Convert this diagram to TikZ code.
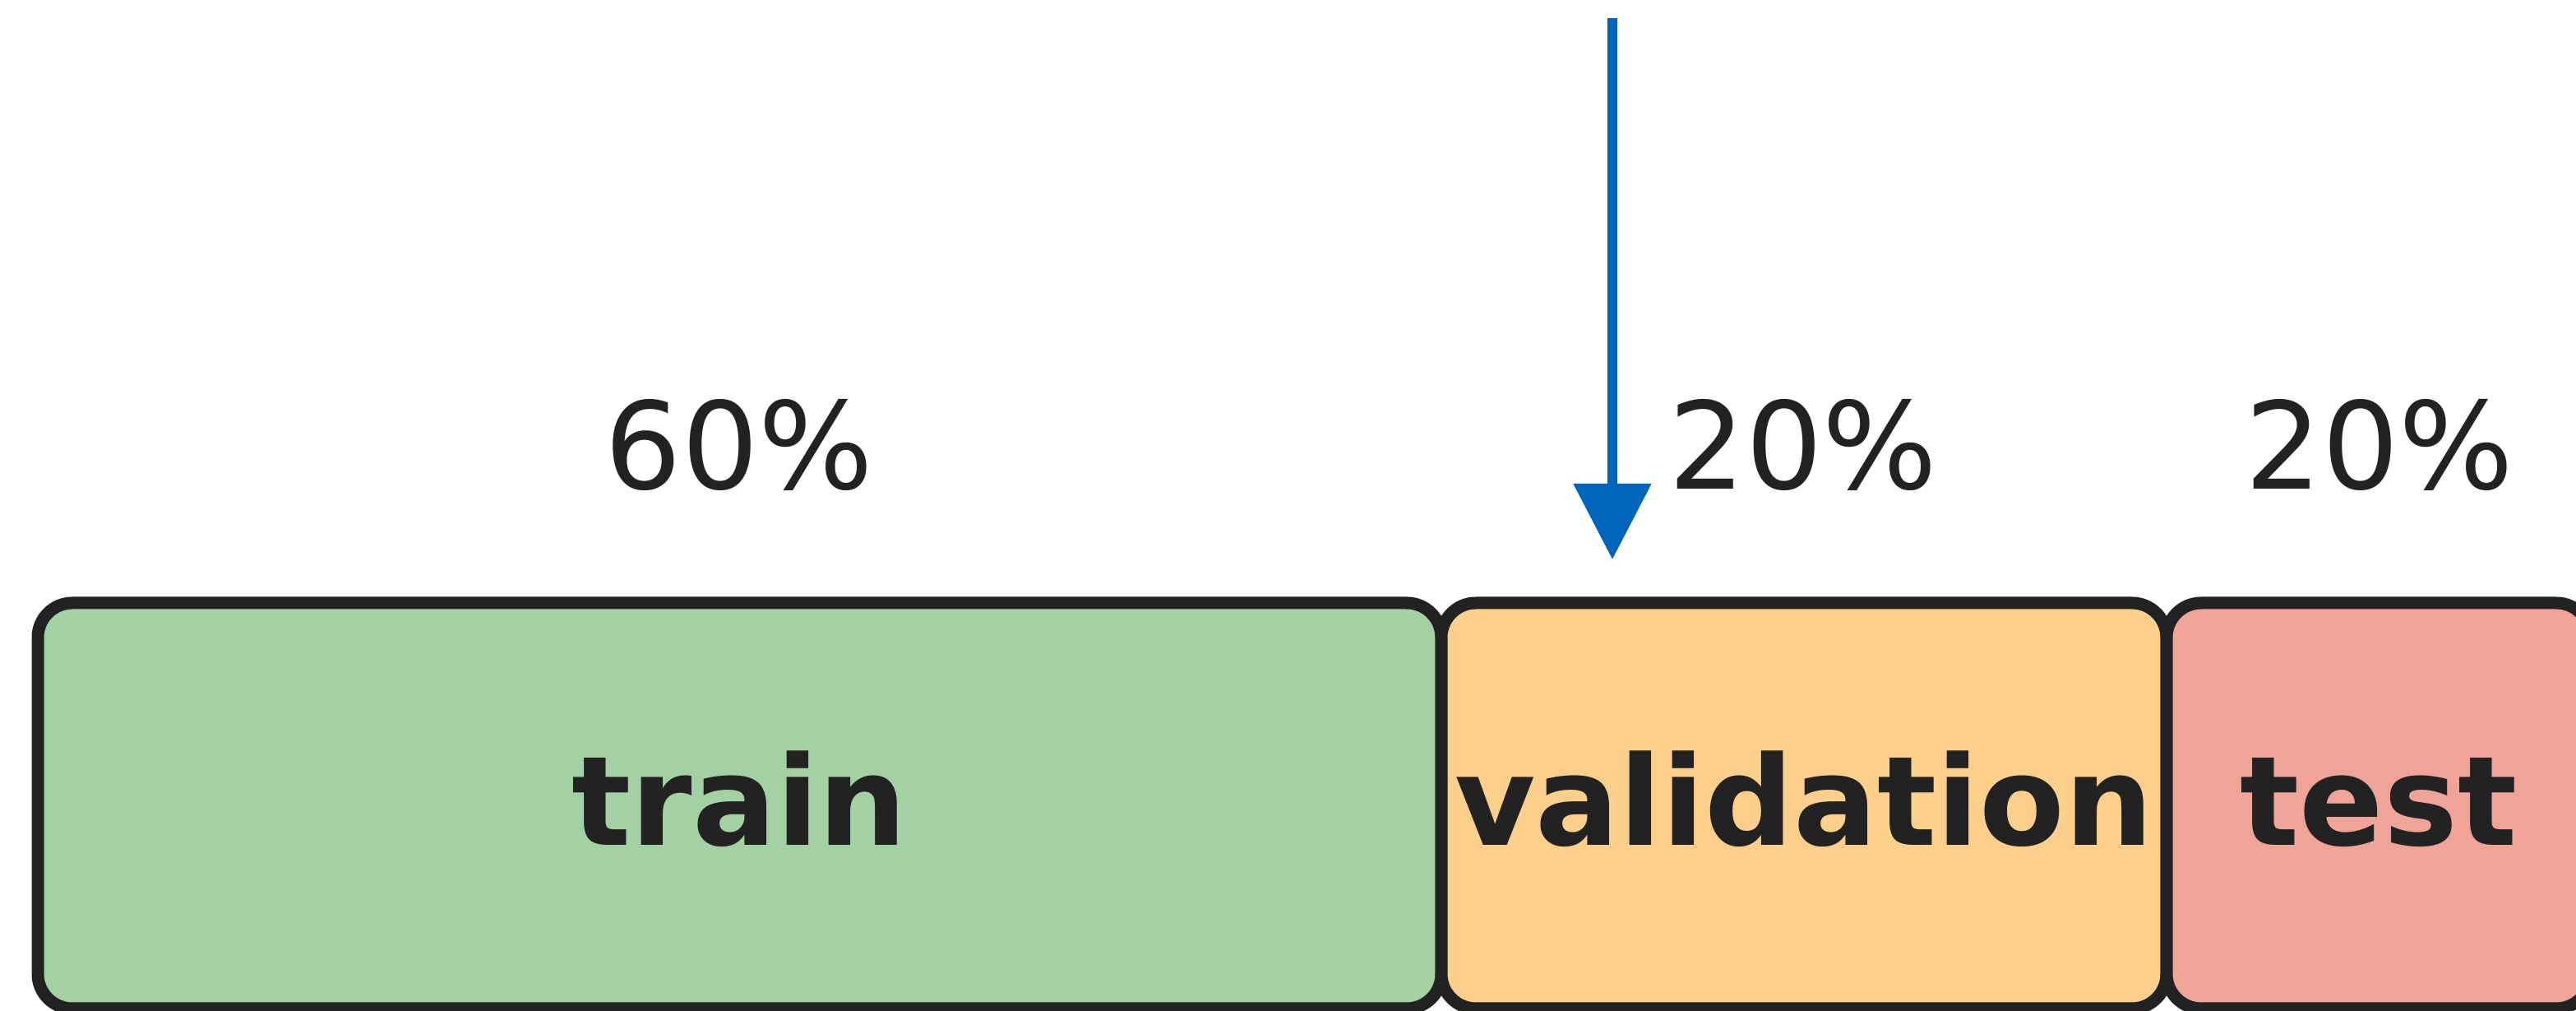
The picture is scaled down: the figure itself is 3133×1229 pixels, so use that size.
\documentclass[tikz,border=0pt]{standalone}
\usepackage{fontspec}
\setmainfont{DejaVu Sans}
\usetikzlibrary{arrows.meta}
\definecolor{edge}{HTML}{222222}
\definecolor{trainfill}{HTML}{A4D1A4}
\definecolor{valfill}{HTML}{FCD08B}
\definecolor{testfill}{HTML}{F0A498}
\definecolor{arrowblue}{HTML}{0064BC}
\tikzset{
  splitbox/.style={draw=edge, line width=15pt, rounded corners=42pt,
    inner sep=0pt, minimum height=493pt, text height=100pt, text depth=3pt,
    text=edge, font=\fontsize{151}{160}\selectfont\bfseries},
  pct/.style={anchor=base, inner sep=0pt, text=edge,
    font=\fontsize{147}{160}\selectfont},
  pointer/.style={draw=arrowblue, line width=12pt,
    -{Triangle[length=92pt,width=92pt]}}
}
\begin{document}
\begin{tikzpicture}[x=1pt,y=1pt]
  \useasboundingbox[clip] (0,0) rectangle (3133,1229);
  \node[splitbox, fill=trainfill, minimum width=1707pt] (train) at (899.5,249.5) {train};
  \node[splitbox, fill=valfill, minimum width=882pt] (val) at (2194,249.5) {validation};
  \node[splitbox, fill=testfill, minimum width=516pt] (test) at (2893,249.5) {test};
  \node[pct] (p60) at (899,634) {60\%};
  \node[pct] (p20a) at (2193,634) {20\%};
  \node[pct] (p20b) at (2894,634) {20\%};
  \coordinate (arrtop) at (1961,1207);
  \coordinate (arrtip) at (1961,549);
  \draw[pointer] (arrtop) -- (arrtip);
\end{tikzpicture}
\end{document}
